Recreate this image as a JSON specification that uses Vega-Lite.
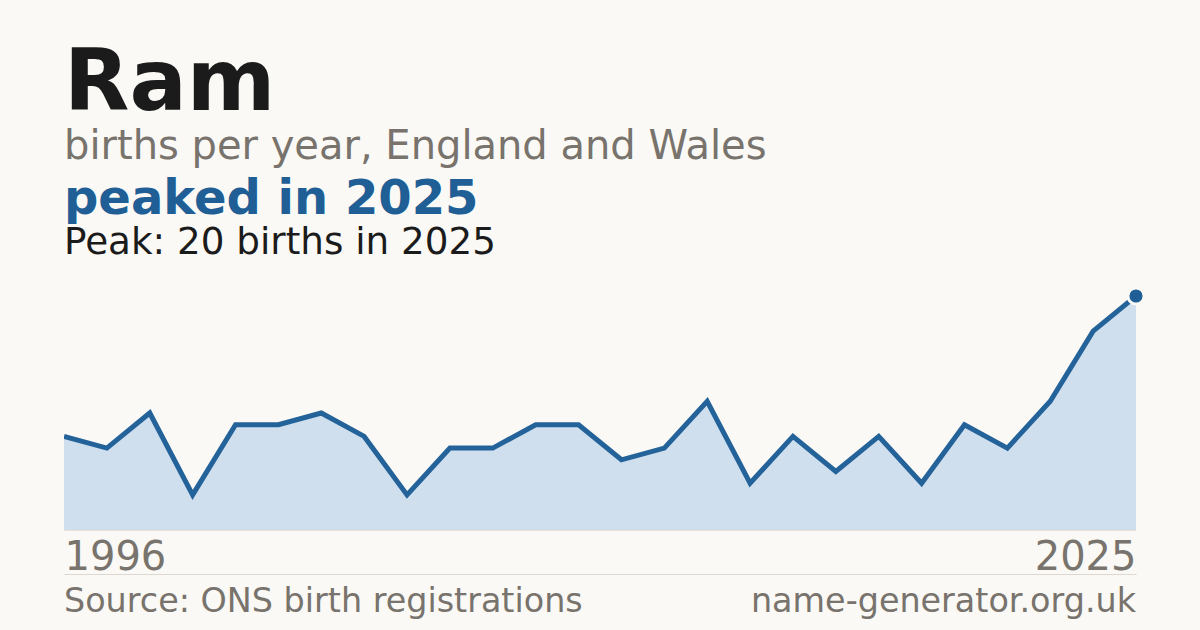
{
  "$schema": "https://vega.github.io/schema/vega-lite/v6.json",
  "background": "#faf9f5",
  "padding": {"left": 64, "right": 64, "top": 41, "bottom": 0},
  "config": {"font": "DejaVu Sans", "view": {"stroke": null}},
  "title": {
    "text": "Ram",
    "subtitle": "births per year, England and Wales",
    "anchor": "start",
    "font": "DejaVu Sans",
    "fontSize": 85,
    "fontWeight": "bold",
    "color": "#1b1b1b",
    "subtitleFont": "DejaVu Sans",
    "subtitleFontSize": 40,
    "subtitleColor": "#78736c",
    "subtitlePadding": -1,
    "offset": 8
  },
  "datasets": {
    "births": [
      {"year": 1996, "births": 8},
      {"year": 1997, "births": 7},
      {"year": 1998, "births": 10},
      {"year": 2000, "births": 3},
      {"year": 2001, "births": 9},
      {"year": 2002, "births": 9},
      {"year": 2004, "births": 10},
      {"year": 2005, "births": 8},
      {"year": 2006, "births": 3},
      {"year": 2008, "births": 7},
      {"year": 2009, "births": 7},
      {"year": 2010, "births": 9},
      {"year": 2012, "births": 9},
      {"year": 2013, "births": 6},
      {"year": 2014, "births": 7},
      {"year": 2015, "births": 11},
      {"year": 2016, "births": 4},
      {"year": 2017, "births": 8},
      {"year": 2018, "births": 5},
      {"year": 2019, "births": 8},
      {"year": 2020, "births": 4},
      {"year": 2021, "births": 9},
      {"year": 2022, "births": 7},
      {"year": 2023, "births": 11},
      {"year": 2024, "births": 17},
      {"year": 2025, "births": 20}
    ],
    "footer": [
      {"label": "Source: ONS birth registrations", "pos": 0},
      {"label": "name-generator.org.uk", "pos": 1}
    ]
  },
  "bounds": "flush",
  "spacing": 44,
  "vconcat": [
    {
      "width": 1072,
      "height": 234,
      "title": {
        "text": "peaked in 2025",
        "subtitle": "Peak: 20 births in 2025",
        "anchor": "start",
        "font": "DejaVu Sans",
        "fontSize": 48,
        "fontWeight": "bold",
        "color": "#1f5f96",
        "subtitleFont": "DejaVu Sans",
        "subtitleFontSize": 37.3,
        "subtitleColor": "#1b1b1b",
        "subtitlePadding": 1,
        "offset": 21
      },
      "data": {"name": "births"},
      "encoding": {
        "x": {
          "field": "year",
          "type": "ordinal",
          "scale": {"type": "point", "padding": 0},
          "axis": {
            "values": [1996, 2025],
            "labelAngle": 0,
            "labelFlush": true,
            "labelFontSize": 40,
            "labelColor": "#78736c",
            "ticks": false,
            "domainColor": "#e6dfd5",
            "labelPadding": 7,
            "title": null
          }
        },
        "y": {
          "field": "births",
          "type": "quantitative",
          "scale": {"domain": [0, 20]},
          "axis": null
        }
      },
      "layer": [
        {"mark": {"type": "area", "color": "#cfdfee"}},
        {"mark": {"type": "line", "color": "#24629a", "strokeWidth": 5, "clip": true}},
        {
          "transform": [{"filter": "datum.year == 2025"}],
          "mark": {"type": "point", "filled": true, "shape": "circle", "size": 260, "color": "#1f5f96", "stroke": "#faf9f5", "strokeWidth": 3, "opacity": 1}
        }
      ]
    },
    {
      "width": 1072,
      "height": 56,
      "data": {"name": "footer"},
      "encoding": {
        "x": {
          "field": "pos",
          "type": "quantitative",
          "scale": {"domain": [0, 1]},
          "axis": {"orient": "top", "labels": false, "ticks": false, "grid": false, "title": null, "domainColor": "#dcd8d1"}
        },
        "text": {"field": "label"}
      },
      "layer": [
        {
          "transform": [{"filter": "datum.pos == 0"}],
          "mark": {"type": "text", "align": "left", "fontSize": 33.4, "color": "#78736c"}
        },
        {
          "transform": [{"filter": "datum.pos == 1"}],
          "mark": {"type": "text", "align": "right", "fontSize": 33.4, "color": "#78736c"}
        }
      ]
    }
  ]
}
